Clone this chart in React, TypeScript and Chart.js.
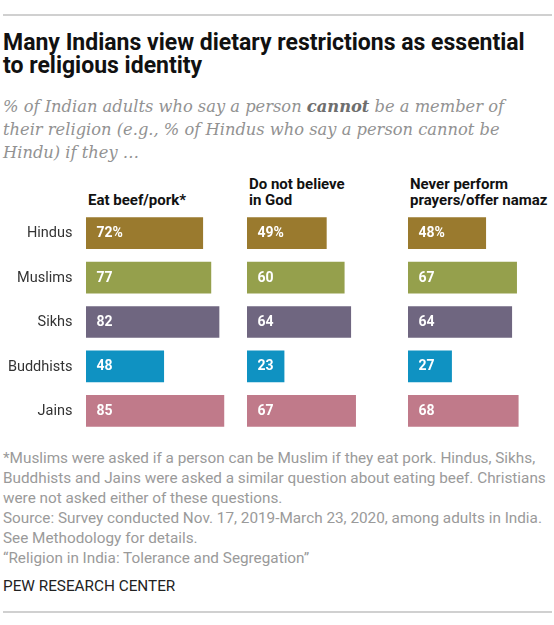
import React, { useEffect, useRef } from "react";
import { Chart, registerables } from "chart.js";

Chart.register(...registerables);

const religions = ["Hindus", "Muslims", "Sikhs", "Buddhists", "Jains"];
const eatBeefPork = [72, 77, 82, 48, 85];
const notBelieveGod = [49, 60, 64, 23, 67];
const neverPray = [48, 67, 64, 27, 68];
const headers = [["Eat beef/pork*"], ["Do not believe", "in God"], ["Never perform", "prayers/offer namaz"]];
const rowColors = ["#9a7a2e", "#95a04c", "#6f6680", "#0f92c2", "#c07a8a"];

const X_MAX = 99;
const COL_W = 161;
const CHART_TOP = 211;
const CHART_H = 222;
const LABEL_W = 86;
const colLefts = [86, 247, 408];

const valueLabelPlugin = {
  id: "valueLabels",
  afterDatasetsDraw(chart: any) {
    const ctx = chart.ctx;
    const meta = chart.getDatasetMeta(0);
    const data = chart.data.datasets[0].data;
    ctx.save();
    ctx.fillStyle = "#ffffff";
    ctx.font = "bold 14px Roboto";
    ctx.textAlign = "left";
    ctx.textBaseline = "middle";
    meta.data.forEach((bar: any, i: number) => {
      const txt = i === 0 ? `${data[i]}%` : `${data[i]}`;
      ctx.fillText(txt, bar.base + 10.5, bar.y + 0.5);
    });
    ctx.restore();
  },
};

const rowLabelPlugin = {
  id: "rowLabels",
  afterDraw(chart: any, _args: any, opts: any) {
    if (!opts || !opts.show) return;
    const ctx = chart.ctx;
    const yScale = chart.scales.y;
    ctx.save();
    ctx.fillStyle = "#333333";
    ctx.font = "14.5px Roboto";
    ctx.textAlign = "right";
    ctx.textBaseline = "middle";
    chart.data.labels.forEach((lab: string, i: number) => {
      ctx.fillText(lab, chart.chartArea.left - 13.5, yScale.getPixelForValue(i) + 0.5);
    });
    ctx.restore();
  },
};

function BarColumn({ values, showLabels }: { values: number[]; showLabels: boolean }) {
  const ref = useRef<HTMLCanvasElement>(null);
  useEffect(() => {
    if (!ref.current) return;
    const chart = new Chart(ref.current, {
      type: "bar",
      data: {
        labels: religions,
        datasets: [
          {
            data: values,
            backgroundColor: rowColors,
            borderWidth: 0,
            barPercentage: 1,
            categoryPercentage: 0.713,
          },
        ],
      },
      options: {
        indexAxis: "y",
        animation: false,
        responsive: true,
        maintainAspectRatio: false,
        layout: { padding: { left: showLabels ? LABEL_W : 0, right: 0, top: 0, bottom: 0 } },
        plugins: {
          legend: { display: false },
          tooltip: { enabled: false },
          rowLabels: { show: showLabels },
        } as any,
        scales: {
          x: { display: false, min: 0, max: X_MAX },
          y: { display: false },
        },
      },
      plugins: [valueLabelPlugin, rowLabelPlugin],
    });
    return () => chart.destroy();
  }, []);
  const width = showLabels ? LABEL_W + COL_W : COL_W;
  return (
    <div style={{ position: "relative", width, height: CHART_H }}>
      <canvas ref={ref} />
    </div>
  );
}

export default function App() {
  const columns = [eatBeefPork, notBelieveGod, neverPray];
  return (
    <div
      style={{
        position: "absolute",
        left: 0,
        top: 0,
        width: 554,
        height: 625,
        background: "#ffffff",
        overflow: "hidden",
        fontFamily: "Roboto, sans-serif",
      }}
    >
      <div style={{ position: "absolute", left: 3, top: 14, width: 549, height: 2, background: "#d0d0d0" }} />
      <div
        style={{
          position: "absolute",
          left: 3,
          top: 30.5,
          fontSize: 23,
          lineHeight: "23px",
          fontWeight: 700,
          color: "#111111",
          whiteSpace: "nowrap",
        }}
      >
        Many Indians view dietary restrictions as essential
        <br />
        to religious identity
      </div>
      <div
        style={{
          position: "absolute",
          left: 3,
          top: 95,
          fontFamily: "'DejaVu Serif', serif",
          fontStyle: "italic",
          fontSize: 16.3,
          lineHeight: "23px",
          color: "#929292",
          whiteSpace: "nowrap",
        }}
      >
        % of Indian adults who say a person <b style={{ color: "#6e6e6e" }}>cannot</b> be a member of
        <br />
        their religion (e.g., % of Hindus who say a person cannot be
        <br />
        Hindu) if they …
      </div>
      {headers.map((h, i) => (
        <div
          key={i}
          style={{
            position: "absolute",
            left: colLefts[i] + 2,
            top: h.length === 1 ? 192 : 175.5,
            fontSize: 15,
            lineHeight: "16px",
            fontWeight: 700,
            color: "#111111",
            whiteSpace: "nowrap",
          }}
        >
          {h.map((line, j) => (
            <div key={j}>{line}</div>
          ))}
        </div>
      ))}
      {columns.map((vals, i) => (
        <div
          key={i}
          style={{
            position: "absolute",
            left: i === 0 ? 0 : colLefts[i],
            top: CHART_TOP,
          }}
        >
          <BarColumn values={vals} showLabels={i === 0} />
        </div>
      ))}
      <div
        style={{
          position: "absolute",
          left: 3,
          top: 447.5,
          fontSize: 15.3,
          lineHeight: "20px",
          color: "#9a9a9a",
          whiteSpace: "nowrap",
        }}
      >
        *Muslims were asked if a person can be Muslim if they eat pork. Hindus, Sikhs,
        <br />
        Buddhists and Jains were asked a similar question about eating beef. Christians
        <br />
        were not asked either of these questions.
        <br />
        Source: Survey conducted Nov. 17, 2019-March 23, 2020, among adults in India.
        <br />
        See Methodology for details.
        <br />
        “Religion in India: Tolerance and Segregation”
      </div>
      <div
        style={{
          position: "absolute",
          left: 3,
          top: 579,
          fontSize: 15.3,
          lineHeight: "15px",
          color: "#222222",
          whiteSpace: "nowrap",
        }}
      >
        PEW RESEARCH CENTER
      </div>
      <div style={{ position: "absolute", left: 3, top: 611, width: 549, height: 2, background: "#d0d0d0" }} />
    </div>
  );
}
